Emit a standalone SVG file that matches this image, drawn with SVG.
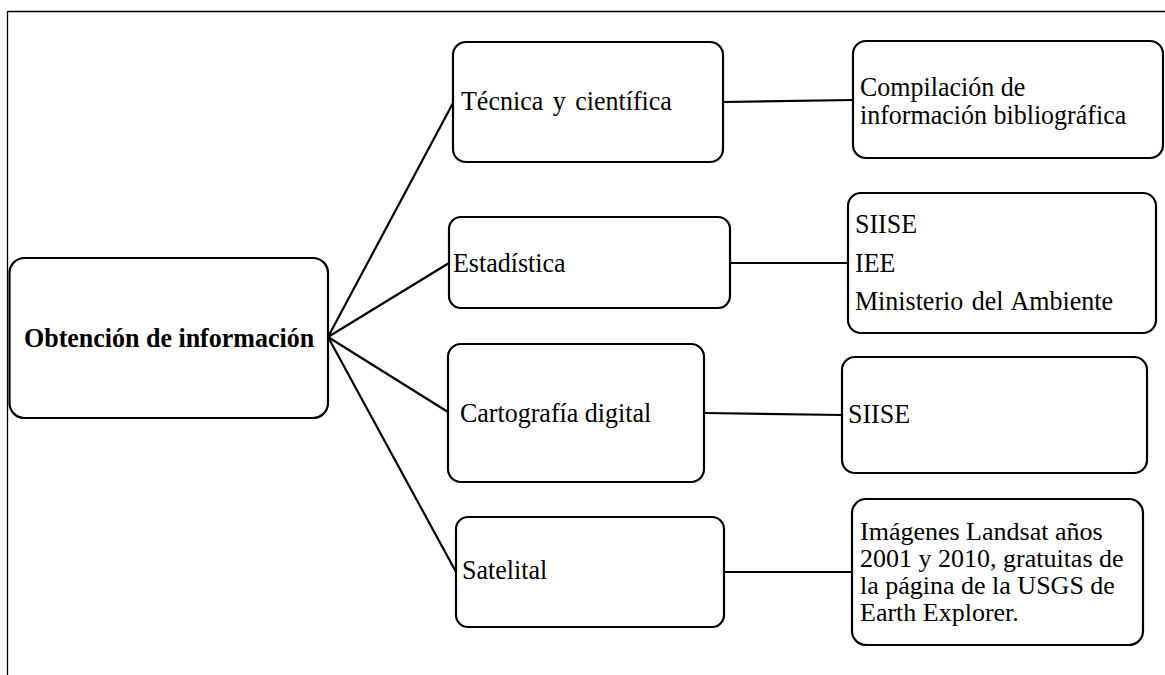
<svg xmlns="http://www.w3.org/2000/svg" width="1165" height="675" viewBox="0 0 1165 675">
<style>
.box{fill:#fff;stroke:#000;stroke-width:2.2}
.frame{stroke:#000;stroke-width:1.3;fill:none}
.conn line{stroke:#000;stroke-width:2.2}
text{font-family:"Liberation Serif","Times New Roman",serif;font-size:26px;fill:#000}
.b{font-weight:bold}
</style>
<rect width="1165" height="675" fill="#fff"/>
<g id="frame">
<line class="frame" x1="7.5" y1="11.5" x2="1165" y2="11.5"/>
<line class="frame" x1="7.5" y1="11" x2="7.5" y2="675"/>
</g>
<g class="conn" id="connectors">
<line x1="328" y1="337" x2="453" y2="103"/>
<line x1="328" y1="337" x2="449" y2="263"/>
<line x1="328" y1="337" x2="448" y2="412"/>
<line x1="328" y1="337" x2="456" y2="572"/>
<line x1="723" y1="102" x2="853" y2="100"/>
<line x1="730" y1="263" x2="848" y2="263"/>
<line x1="704" y1="413" x2="842" y2="415"/>
<line x1="724" y1="572" x2="852" y2="572"/>
</g>
<g id="root">
<rect class="box" x="9.5" y="258" width="318.5" height="160" rx="15"/>
<text class="b" transform="translate(24,347) scale(1,1.07)">Obtención de información</text>
</g>
<g id="tecnica">
<rect class="box" x="453" y="42" width="270" height="120" rx="13"/>
<text transform="translate(461,110) scale(1,1.07)" word-spacing="3">Técnica y científica</text>
</g>
<g id="estadistica">
<rect class="box" x="449" y="217" width="281" height="91" rx="12"/>
<text transform="translate(453,272) scale(1,1.07)">Estadística</text>
</g>
<g id="cartografia">
<rect class="box" x="448" y="344" width="256" height="138" rx="13"/>
<text transform="translate(460,422) scale(1,1.07)">Cartografía digital</text>
</g>
<g id="satelital">
<rect class="box" x="456" y="517" width="268" height="110" rx="12"/>
<text transform="translate(462,579) scale(1,1.07)">Satelital</text>
</g>
<g id="compilacion">
<rect class="box" x="853" y="41" width="310" height="117" rx="13"/>
<text transform="translate(860,96) scale(1,1.07)">Compilación de</text>
<text transform="translate(860,124) scale(1,1.07)">información bibliográfica</text>
</g>
<g id="fuentes-estadistica">
<rect class="box" x="848" y="193" width="308" height="140" rx="13"/>
<text transform="translate(855,233) scale(1,1.07)">SIISE</text>
<text transform="translate(855,272) scale(1,1.07)">IEE</text>
<text transform="translate(855,310) scale(1,1.07)" word-spacing="2">Ministerio del Ambiente</text>
</g>
<g id="siise">
<rect class="box" x="842" y="357" width="305" height="116" rx="13"/>
<text transform="translate(848,423) scale(1,1.07)">SIISE</text>
</g>
<g id="imagenes">
<rect class="box" x="852" y="499" width="291" height="146" rx="14"/>
<text x="860" y="540">Imágenes Landsat años</text>
<text x="860" y="567">2001 y 2010, gratuitas de</text>
<text x="860" y="594">la página de la USGS de</text>
<text x="860" y="621">Earth Explorer.</text>
</g>
</svg>
